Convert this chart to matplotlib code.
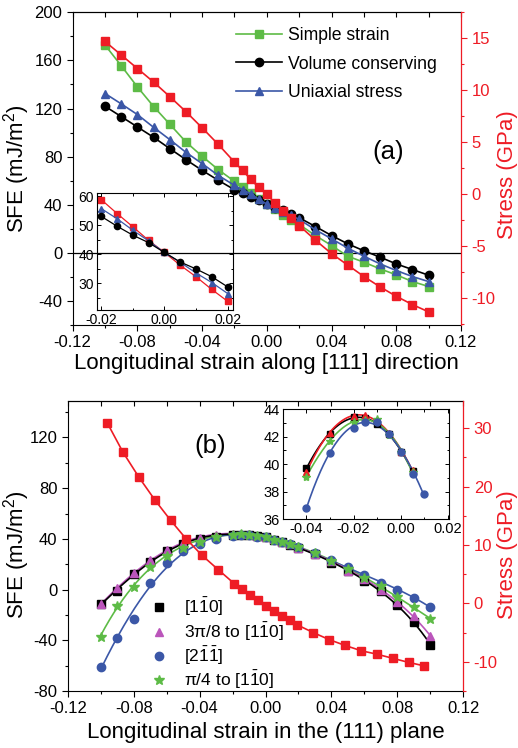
import numpy as np
import matplotlib
matplotlib.use("Agg")
import matplotlib.pyplot as plt
from matplotlib.ticker import MultipleLocator, FormatStrFormatter

plt.rcParams['font.family'] = ['Liberation Sans', 'DejaVu Sans']
plt.rcParams['mathtext.fontset'] = 'custom'
plt.rcParams['mathtext.rm'] = 'Liberation Sans'
plt.rcParams['mathtext.it'] = 'Liberation Sans:italic'
plt.rcParams['axes.unicode_minus'] = False

# ---------------- Panel (a) data ----------------
strain_a = [-0.1, -0.09, -0.08, -0.07, -0.06, -0.05, -0.04, -0.03, -0.02, -0.015, -0.01, -0.005,
            0.0, 0.005, 0.01, 0.015, 0.02, 0.03, 0.04, 0.05, 0.06, 0.07, 0.08, 0.09, 0.1]
sfe_simple = [172.8, 155.6, 138.0, 121.7, 107.0, 92.2, 80.3, 69.2, 59.4, 54.4, 49.7, 44.7,
              40.6, 36.1, 31.7, 27.5, 23.6, 14.4, 6.1, -2.8, -7.8, -13.3, -18.3, -23.9, -28.0]
sfe_volume = [121.9, 113.3, 104.7, 96.1, 86.7, 77.5, 68.6, 60.3, 52.5, 49.7, 46.4, 44.2,
              40.6, 37.5, 35.3, 32.5, 29.2, 21.9, 14.4, 7.5, 1.7, -3.6, -9.2, -13.9, -18.6]
sfe_uniax = [132.5, 123.9, 115.0, 104.4, 94.2, 83.6, 74.2, 64.4, 56.1, 52.5, 49.2, 44.4,
             40.6, 37.2, 34.2, 31.1, 27.8, 19.2, 11.7, 3.9, -2.8, -9.2, -14.7, -19.7, -23.9]
stress_a = [14.7, 13.4, 12.1, 10.8, 9.4, 7.95, 6.4, 4.8, 3.1, 2.3, 1.44, 0.67,
            0.0, -0.83, -1.6, -2.3, -3.0, -4.4, -5.7, -6.8, -7.9, -8.9, -9.8, -10.6, -11.3]

# inset (a)
strain_ia = [-0.02, -0.015, -0.01, -0.005, 0.0, 0.005, 0.01, 0.015, 0.02]
ia_volume = [53.1, 49.7, 46.6, 44.0, 40.6, 37.3, 34.9, 32.2, 28.7]
ia_uniax = [55.8, 52.3, 48.3, 44.6, 40.6, 37.2, 33.5, 30.2, 26.4]
ia_simple = [58.9, 54.1, 49.5, 44.8, 40.6, 36.2, 32.2, 27.8, 23.7]

# ---------------- Panel (b) data ----------------
strain_b = [-0.1, -0.09, -0.08, -0.07, -0.06, -0.05, -0.04, -0.03, -0.02, -0.015, -0.01, -0.005,
            0.0, 0.005, 0.01, 0.015, 0.02, 0.03, 0.04, 0.05, 0.06, 0.07, 0.08, 0.09, 0.1]
sfe_110 = [-11.6, -1.3, 12.4, 22.1, 30.5, 36.0, 39.7, 41.8, 43.4, 43.4, 43.2, 42.6,
           41.3, 39.2, 37.4, 35.3, 32.6, 27.9, 21.3, 14.5, 7.1, -1.3, -12.4, -25.5, -43.7]
sfe_3pi8 = [-11.6, 1.0, 12.9, 23.4, 31.3, 36.6, 40.5, 42.9, 44.0, 44.0, 43.7, 42.6,
            41.8, 39.8, 37.8, 35.6, 33.0, 28.2, 22.2, 15.0, 8.5, 0.0, -9.5, -20.8, -37.0]
sfe_211 = [-61.3, -37.9, -22.9, 5.5, 20.8, 30.5, 36.3, 40.0, 42.6, 43.2, 42.9, 41.8,
           41.1, 39.2, 37.9, 36.0, 33.9, 28.9, 23.4, 17.6, 11.8, 5.5, -0.5, -6.8, -13.4]
sfe_pi4 = [-37.1, -12.9, 2.4, 18.2, 26.6, 33.2, 37.9, 41.3, 43.4, 43.5, 43.3, 42.4,
           41.2, 39.5, 37.6, 35.6, 33.4, 28.5, 22.8, 16.0, 9.5, 2.5, -5.5, -13.7, -23.4]
strain_stress_b = [-0.096, -0.0865, -0.0768, -0.0671, -0.0575, -0.048, -0.0384, -0.0288, -0.019,
                   -0.0142, -0.0094, -0.0045, 0.0, 0.005, 0.0099, 0.0148, 0.0194, 0.029, 0.0386,
                   0.0483, 0.058, 0.0676, 0.0772, 0.0868, 0.0963]
stress_b = [30.9, 25.9, 21.6, 17.7, 14.2, 11.0, 8.2, 5.8, 3.4, 2.5, 1.5, 0.5,
            -0.4, -1.3, -2.1, -2.9, -3.7, -5.0, -6.2, -7.2, -8.1, -8.7, -9.4, -10.1, -10.7]

# inset (b)
strain_ib = [-0.04, -0.03, -0.02, -0.015, -0.01, -0.005, 0.0, 0.005]
ib_110 = [39.7, 42.2, 43.45, 43.4, 42.9, 42.2, 40.9, 39.5]
ib_3pi8 = [39.4, 42.3, 43.5, 43.6, 43.2, 42.3, 40.9, 39.6]
ib_pi4 = [39.1, 41.7, 43.05, 43.2, 43.3, 42.1, 40.9, 39.45]
strain_ib_211 = [-0.04, -0.03, -0.02, -0.015, -0.01, -0.005, 0.0, 0.005, 0.01]
ib_211 = [36.8, 40.8, 42.66, 43.1, 43.05, 42.2, 40.9, 39.3, 37.8]

legend_a = ['Simple strain', 'Volume conserving', 'Uniaxial stress']
legend_b = [r'[1$\bar{1}$0]', r'3π/8 to [1$\bar{1}$0]', r'[2$\bar{1}\bar{1}$]', r'π/4 to [1$\bar{1}$0]']

GREEN = '#5dbb46'
RED = '#ee1c25'
BLUE = '#3b57a7'
MAG = '#bb55bb'
BLACK = '#000000'

fig = plt.figure(figsize=(5.18, 7.48), dpi=100)


def style_main(ax):
    ax.tick_params(axis='both', which='both', direction='out', labelsize=12, width=0.8)
    ax.tick_params(which='major', length=4)
    ax.tick_params(which='minor', length=2.5)
    ax.spines['right'].set_visible(False)
    sec = ax.secondary_xaxis('top')
    sec.set_xticks(np.arange(-0.12, 0.1201, 0.02))
    sec.tick_params(direction='in', length=3.5, labeltop=False, width=0.8)
    sec.set_xticklabels([])
    return sec


def style_twin(tw):
    for s in ['left', 'top', 'bottom']:
        tw.spines[s].set_visible(False)
    tw.spines['right'].set_color(RED)
    tw.spines['right'].set_linewidth(0.9)
    tw.tick_params(axis='y', which='both', colors=RED, direction='out', labelsize=12, width=0.8)
    tw.tick_params(which='major', length=4)
    tw.tick_params(which='minor', length=2.5)


# ================= Panel (a) =================
ax1 = fig.add_axes([0.1403, 0.5655, 0.7497, 0.418])
style_main(ax1)
ax1.axhline(0, color='black', lw=0.9, zorder=1)
ax1.plot(strain_a, sfe_simple, '-s', color=GREEN, ms=5.5, lw=1.2, label=legend_a[0])
ax1.plot(strain_a, sfe_volume, '-o', color=BLACK, ms=6, lw=1.2, label=legend_a[1])
ax1.plot(strain_a, sfe_uniax, '-^', color=BLUE, ms=6, lw=1.2, label=legend_a[2])
ax1.set_xlim(-0.12, 0.12)
ax1.set_ylim(-60, 200)
ax1.xaxis.set_major_locator(MultipleLocator(0.04))
ax1.xaxis.set_minor_locator(MultipleLocator(0.02))
ax1.yaxis.set_major_locator(MultipleLocator(40))
ax1.yaxis.set_minor_locator(MultipleLocator(20))
ax1.xaxis.set_major_formatter(FormatStrFormatter('%.2f'))
ax1.set_xlabel('Longitudinal strain along [111] direction', fontsize=16, labelpad=2)
ax1.set_ylabel('SFE (mJ/m$^2$)', fontsize=16)
ax1.yaxis.set_label_coords(-0.105, 0.5)
ax1.legend(loc='upper left', bbox_to_anchor=(0.42, 0.952), frameon=False, fontsize=12.7,
           handlelength=2.6, handletextpad=0.35, labelspacing=0.64, borderpad=0,
           borderaxespad=0, numpoints=1)
ax1.text(0.075, 84, '(a)', fontsize=18.5, ha='center', va='center')

tw1 = ax1.twinx()
style_twin(tw1)
tw1.plot(strain_a, stress_a, '-s', color=RED, ms=5.8, lw=1.2)
tw1.set_ylim(-12.56, 17.5)
tw1.yaxis.set_major_locator(MultipleLocator(5))
tw1.yaxis.set_minor_locator(MultipleLocator(2.5))
tw1.set_ylabel('Stress (GPa)', color=RED, fontsize=16)
tw1.yaxis.set_label_coords(1.093, 0.48)

# inset (a)
axi1 = fig.add_axes([0.1863, 0.5856, 0.2641, 0.156])
axi1.set_facecolor('none')
axi1.plot(strain_ia, ia_simple, '-s', color=RED, ms=4, lw=0.9)
axi1.plot(strain_ia, ia_uniax, '-^', color=BLUE, ms=4.5, lw=0.9)
axi1.plot(strain_ia, ia_volume, '-o', color=BLACK, ms=4.5, lw=0.9)
axi1.set_xlim(-0.0215, 0.0218)
axi1.set_ylim(20.7, 61.1)
axi1.xaxis.set_major_locator(MultipleLocator(0.02))
axi1.xaxis.set_minor_locator(MultipleLocator(0.01))
axi1.yaxis.set_major_locator(MultipleLocator(10))
axi1.yaxis.set_minor_locator(MultipleLocator(5))
axi1.xaxis.set_major_formatter(FormatStrFormatter('%.2f'))
axi1.tick_params(which='both', direction='in', top=True, right=True, labelsize=10, width=0.7,
                 pad=2)
axi1.tick_params(which='major', length=3)
axi1.tick_params(which='minor', length=1.8)

# ================= Panel (b) =================
ax2 = fig.add_axes([0.1307, 0.0762, 0.7637, 0.3881])
style_main(ax2)
series_b = [(sfe_110, 's', BLACK, 5.2, legend_b[0]),
            (sfe_3pi8, '^', MAG, 6, legend_b[1]),
            (sfe_211, 'o', BLUE, 6, legend_b[2]),
            (sfe_pi4, '*', GREEN, 7, legend_b[3])]
xs = np.array(strain_b)
xfine = np.linspace(min(strain_b), max(strain_b), 300)
for vals, mk, col, ms, lab in series_b:
    ax2.plot(xs, vals, mk, color=col, ms=ms, ls='none', label=lab, zorder=3)
for vals, mk, col, ms, lab in series_b[::-1]:
    coef = np.polyfit(xs, vals, 5)
    ax2.plot(xfine, np.polyval(coef, xfine), '-', color=col, lw=1.2, zorder=2)
ax2.set_xlim(-0.12, 0.12)
ax2.set_ylim(-80, 149)
ax2.xaxis.set_major_locator(MultipleLocator(0.04))
ax2.xaxis.set_minor_locator(MultipleLocator(0.02))
ax2.yaxis.set_major_locator(MultipleLocator(40))
ax2.yaxis.set_minor_locator(MultipleLocator(20))
ax2.xaxis.set_major_formatter(FormatStrFormatter('%.2f'))
ax2.set_xlabel('Longitudinal strain in the (111) plane', fontsize=16, labelpad=4)
ax2.set_ylabel('SFE (mJ/m$^2$)', fontsize=16)
ax2.yaxis.set_label_coords(-0.09, 0.47)
ax2.legend(loc='upper left', bbox_to_anchor=(0.205, 0.327), frameon=False, fontsize=12.5,
           handlelength=1.2, handletextpad=0.8, labelspacing=0.12, borderpad=0,
           borderaxespad=0, numpoints=1)
ax2.text(-0.0337, 113, '(b)', fontsize=18.5, ha='center', va='center')

tw2 = ax2.twinx()
style_twin(tw2)
tw2.plot(strain_stress_b, stress_b, '-s', color=RED, ms=5.5, lw=1.2)
tw2.set_ylim(-15, 34.7)
tw2.yaxis.set_major_locator(MultipleLocator(10))
tw2.yaxis.set_minor_locator(MultipleLocator(5))
tw2.set_ylabel('Stress (GPa)', color=RED, fontsize=16)
tw2.yaxis.set_label_coords(1.086, 0.47)

# inset (b)
axi2 = fig.add_axes([0.5457, 0.3061, 0.3217, 0.1467])
axi2.set_facecolor('none')
inset_b = [(strain_ib, ib_110, 's', BLACK, 4.5),
           (strain_ib, ib_3pi8, '^', RED, 5),
           (strain_ib, ib_pi4, '*', GREEN, 6),
           (strain_ib_211, ib_211, 'o', BLUE, 5)]
for xv, vals, mk, col, ms in inset_b:
    xv = np.array(xv)
    axi2.plot(xv, vals, mk, color=col, ms=ms, ls='none', zorder=3)
    coef = np.polyfit(xv, vals, 3)
    xf = np.linspace(xv.min(), xv.max(), 200)
    axi2.plot(xf, np.polyval(coef, xf), '-', color=col, lw=1.2, zorder=2)
axi2.set_xlim(-0.05, 0.0205)
axi2.set_ylim(36, 44)
axi2.xaxis.set_major_locator(MultipleLocator(0.02))
axi2.xaxis.set_minor_locator(MultipleLocator(0.01))
axi2.yaxis.set_major_locator(MultipleLocator(2))
axi2.yaxis.set_minor_locator(MultipleLocator(1))
axi2.xaxis.set_major_formatter(FormatStrFormatter('%.2f'))
axi2.tick_params(which='both', direction='in', top=True, right=True, labelsize=10.5, width=0.7,
                 pad=2)
axi2.tick_params(which='major', length=3)
axi2.tick_params(which='minor', length=1.8)

fig.savefig('out.png', dpi=100)
